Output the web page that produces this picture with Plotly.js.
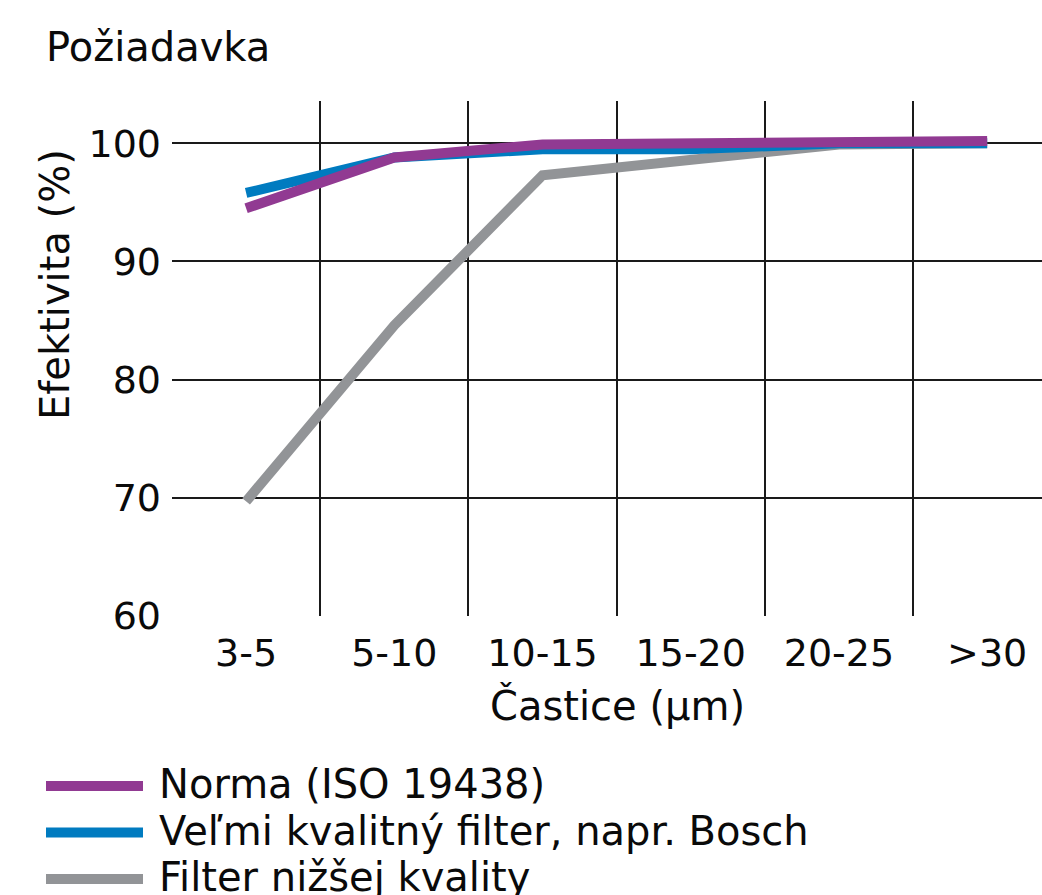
<!DOCTYPE html>
<html>
<head>
<meta charset="utf-8">
<script src="https://cdn.plot.ly/plotly-3.0.1.min.js"></script>
<style>html,body{margin:0;padding:0;background:#fff;}#chart{width:1042px;height:895px;}</style>
</head>
<body>
<div id="chart"></div>
<script>
const categories = ["3-5", "5-10", "10-15", "15-20", "20-25", ">30"];
const normaValues = [94.5, 98.8, 99.9, 100.0, 100.3, 100.2];
const boschValues = [95.8, 98.8, 99.5, 99.5, 100.0, 100.0];
const lowValues = [69.7, 84.6, 97.3, 98.7, 99.9, 100.0];
const seriesNames = ["Norma (ISO 19438)", "Veľmi kvalitný filter, napr. Bosch", "Filter nižšej kvality"];
const seriesColors = ["#913A92", "#007BC0", "#929497"];
const yTicks = [60, 70, 80, 90, 100];
const titleText = "Požiadavka";
const xTitle = "Častice (µm)";
const yTitle = "Efektivita (%)";

const FONT = "DejaVu Sans, sans-serif";
const TXT = "#0a0a0a";
// plot area in pixels
const PL = 172, PR = 1042, PT = 101, PB = 616;
const px = v => (v - PL) / (PR - PL);
const py = v => (PB - v) / (PB - PT);

const seriesValues = [normaValues, boschValues, lowValues];
// draw order: grey first, then blue, purple on top
const order = [2, 1, 0];
const traces = order.map(i => ({
  x: categories, y: seriesValues[i], name: seriesNames[i], mode: "lines",
  line: {color: seriesColors[i], width: 10}, showlegend: false
}));

// custom legend (long swatches, tight rows like the reference)
const legendRowsY = [786, 832.5, 879];
const shapes = seriesNames.map((n, i) => ({
  type: "line", xref: "paper", yref: "paper",
  x0: px(46), x1: px(143), y0: py(legendRowsY[i]), y1: py(legendRowsY[i]),
  line: {color: seriesColors[i], width: 10}
}));
const legendAnn = seriesNames.map((n, i) => ({
  text: n, xref: "paper", yref: "paper", x: px(157), y: py(legendRowsY[i] - 2),
  xanchor: "left", yanchor: "middle", showarrow: false,
  font: {size: 40, color: TXT}
}));

const layout = {
  width: 1042, height: 895,
  margin: {l: PL, r: 1042 - PR, t: PT, b: 895 - PB, autoexpand: false},
  paper_bgcolor: "#fff", plot_bgcolor: "#fff",
  font: {family: FONT, size: 38, color: TXT},
  title: {text: titleText, xref: "container", x: 46/1042, xanchor: "left", yref: "container", y: 1 - 47/895, yanchor: "middle", font: {size: 40, color: TXT}},
  showlegend: false,
  xaxis: {
    type: "category", categoryorder: "array", categoryarray: categories,
    range: [-0.5, 5.37], tickson: "boundaries", ticks: "",
    showgrid: true, gridcolor: "#1a1a1a", gridwidth: 2,
    zeroline: false, showline: false, ticklabelstandoff: 11,
    tickfont: {size: 38, color: TXT}, fixedrange: true
  },
  yaxis: {
    range: [60, 103.58], tickmode: "array", tickvals: yTicks, ticktext: yTicks.map(String),
    showgrid: true, gridcolor: "#1a1a1a", gridwidth: 2,
    zeroline: false, showline: false, ticks: "", ticklabelstandoff: 10,
    tickfont: {size: 38, color: TXT}, fixedrange: true
  },
  shapes: shapes,
  annotations: [
    {text: xTitle, xref: "paper", yref: "paper", x: px(617), y: py(705), xanchor: "center", yanchor: "middle", showarrow: false, font: {size: 40, color: TXT}},
    {text: yTitle, xref: "paper", yref: "paper", x: px(55), y: py(285), xanchor: "center", yanchor: "middle", textangle: -90, showarrow: false, font: {size: 40, color: TXT}}
  ].concat(legendAnn)
};

Plotly.newPlot("chart", traces, layout, {displayModeBar: false, staticPlot: true});
</script>
</body>
</html>
